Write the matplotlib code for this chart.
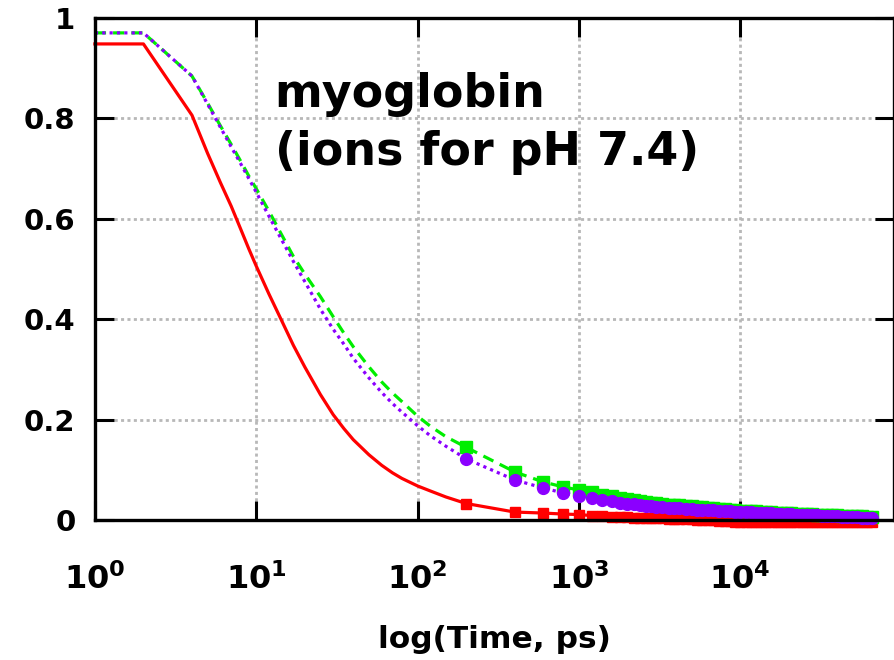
import matplotlib
matplotlib.use("Agg")
import matplotlib.pyplot as plt

# time points (ps): line-only part, then the sampled part with markers
t_head = [1, 2, 4, 5, 6, 7, 8, 9, 10, 12, 14, 17, 20, 25, 30, 35, 40, 50, 60,
          70, 80, 100, 120, 150]
t_tail = [200, 400, 600, 800, 1000, 1200, 1400, 1600, 1800, 2000,
          2200, 2400, 2600, 2800, 3000, 3300, 3600, 3900, 4200, 4600,
          5000, 5400, 5800, 6300, 6800, 7400, 8000, 8600, 9300, 10000,
          10800, 11600, 12500, 13500, 14500, 15600, 16800, 18000, 19400, 20800,
          22400, 24000, 25800, 27700, 29800, 32000, 34400, 37000, 39700, 42700,
          45900, 49300, 53000, 57000, 61300, 66000]

red_head = [0.948, 0.948, 0.806, 0.73, 0.672, 0.625, 0.58, 0.54, 0.506, 0.45,
            0.405, 0.348, 0.305, 0.25, 0.21, 0.182, 0.16, 0.13, 0.109, 0.094,
            0.083, 0.068, 0.058, 0.046]
red_tail = [0.033, 0.016, 0.014, 0.012, 0.011, 0.009, 0.008, 0.007, 0.006, 0.006,
            0.005, 0.005, 0.005, 0.004, 0.004, 0.004, 0.003, 0.003, 0.003, 0.002,
            0.002, 0.001, 0.001, 0.0, 0.0, -0.001, -0.002, -0.002, -0.003, -0.003,
            -0.004, -0.004, -0.004, -0.004, -0.004, -0.004, -0.004, -0.004, -0.004, -0.004,
            -0.004, -0.004, -0.004, -0.004, -0.004, -0.004, -0.004, -0.004, -0.004, -0.004,
            -0.004, -0.004, -0.004, -0.004, -0.004, -0.004]

green_head = [0.97, 0.97, 0.884, 0.83, 0.785, 0.748, 0.715, 0.685, 0.66, 0.615,
              0.575, 0.525, 0.49, 0.445, 0.405, 0.372, 0.345, 0.305, 0.275, 0.253,
              0.236, 0.207, 0.187, 0.166]
green_tail = [0.145, 0.096, 0.076, 0.066, 0.060, 0.055, 0.050, 0.047, 0.044, 0.041,
              0.040, 0.038, 0.036, 0.035, 0.034, 0.033, 0.031, 0.030, 0.030, 0.029,
              0.028, 0.027, 0.026, 0.025, 0.024, 0.023, 0.022, 0.021, 0.020, 0.019,
              0.019, 0.018, 0.018, 0.017, 0.016, 0.016, 0.015, 0.015, 0.014, 0.014,
              0.013, 0.013, 0.012, 0.012, 0.011, 0.011, 0.010, 0.010, 0.010, 0.009,
              0.009, 0.008, 0.008, 0.008, 0.007, 0.007]

purple_head = [0.97, 0.97, 0.884, 0.828, 0.782, 0.743, 0.71, 0.68, 0.653, 0.605,
               0.565, 0.515, 0.475, 0.42, 0.38, 0.35, 0.322, 0.283, 0.254, 0.232,
               0.215, 0.188, 0.168, 0.147]
purple_tail = [0.122, 0.080, 0.064, 0.054, 0.048, 0.044, 0.040, 0.037, 0.035, 0.033,
               0.032, 0.030, 0.029, 0.028, 0.027, 0.026, 0.025, 0.024, 0.024, 0.023,
               0.022, 0.021, 0.021, 0.020, 0.020, 0.019, 0.018, 0.018, 0.017, 0.017,
               0.016, 0.016, 0.015, 0.015, 0.014, 0.014, 0.013, 0.013, 0.012, 0.012,
               0.011, 0.011, 0.011, 0.010, 0.010, 0.009, 0.009, 0.008, 0.008, 0.007,
               0.007, 0.006, 0.006, 0.005, 0.005, 0.004]

x_ticks = [1, 10, 100, 1000, 10000]
x_labels = [r"$\mathbf{10^{0}}$", r"$\mathbf{10^{1}}$", r"$\mathbf{10^{2}}$",
            r"$\mathbf{10^{3}}$", r"$\mathbf{10^{4}}$"]
y_ticks = [0, 0.2, 0.4, 0.6, 0.8, 1.0]
y_labels = ["0", "0.2", "0.4", "0.6", "0.8", "1"]

plt.rcParams['font.family'] = ['DejaVu Sans']
plt.rcParams['font.weight'] = 'bold'
plt.rcParams['mathtext.fontset'] = 'dejavusans'

fig = plt.figure(figsize=(8.95, 6.6), dpi=100)
ax = fig.add_axes([0.106, 0.212, 0.893, 0.761])

n_head = len(t_head)
t_all = t_head + t_tail
tail_idx = list(range(n_head, len(t_all)))

ax.plot(t_all, red_head + red_tail, color='#ff0000', lw=2.3, ls='-',
        marker='s', ms=7, markevery=tail_idx, clip_on=False, zorder=2)
ax.plot(t_all, green_head + green_tail, color='#00ee00', lw=2.3, dashes=(3.5, 2.2),
        marker='s', ms=8.5, markevery=tail_idx, clip_on=False, zorder=2.1)
ax.plot(t_all, purple_head + purple_tail, color='#8b00ff', lw=2.3, dashes=(1.0, 1.3),
        marker='o', ms=8.5, markevery=tail_idx, clip_on=False, zorder=2.2)

ax.set_xscale('log')
ax.set_xlim(1, 9e4)
ax.set_ylim(0, 1.0)

ax.set_xticks(x_ticks)
ax.set_xticklabels(x_labels)
ax.minorticks_off()
ax.set_yticks(y_ticks)
ax.set_yticklabels(y_labels)

ax.tick_params(axis='both', which='major', direction='in', length=14, width=2.2,
               top=True, right=True, labelsize=21)
ax.tick_params(axis='x', pad=31, labelsize=23)
ax.tick_params(axis='y', pad=14)

for sp in ax.spines.values():
    sp.set_linewidth(2.4)
    sp.set_zorder(3)

ax.grid(True, color='#b8b8b8', lw=2.0, dashes=(1.1, 1.2))
ax.set_axisbelow(True)

ax.set_xlabel("log(Time, ps)", fontsize=22.5, fontweight='bold', labelpad=21)

ax.text(0.225, 0.893, "myoglobin\n(ions for pH 7.4)", transform=ax.transAxes,
        fontsize=33, fontweight='bold', va='top', ha='left', linespacing=1.38)

fig.savefig("out.png", dpi=100)
